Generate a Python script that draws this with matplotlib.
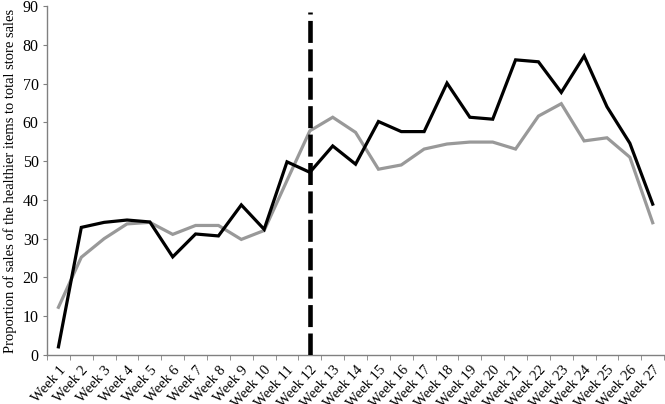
import matplotlib
matplotlib.use("Agg")
import matplotlib.pyplot as plt
import numpy as np

weeks = [f"Week {i}" for i in range(1, 28)]
series_black = [2.1, 32.9, 34.2, 34.8, 34.3, 25.3, 31.2, 30.7, 38.7, 32.4,
                49.8, 47.1, 53.9, 49.2, 60.2, 57.6, 57.6, 70.1, 61.3, 60.8,
                76.1, 75.6, 67.7, 77.1, 64.0, 54.6, 38.9]
series_gray = [12.3, 25.2, 30.0, 33.8, 34.2, 31.1, 33.4, 33.4, 29.8, 32.1,
               45.0, 57.8, 61.3, 57.4, 47.9, 49.0, 53.1, 54.4, 54.9, 54.9,
               53.1, 61.6, 64.8, 55.2, 56.0, 51.0, 34.1]
intervention_week = "Week 12"
intervention_top = 88.5
y_ticks = [0, 10, 20, 30, 40, 50, 60, 70, 80, 90]

plt.rcParams['font.family'] = ['Liberation Serif', 'DejaVu Serif']

fig = plt.figure(figsize=(6.65, 4.04), dpi=100)
ax = fig.add_axes([0.0707, 0.1213, 0.928, 0.864])

x = np.arange(len(weeks))
ax.plot(x, series_gray, color='#999999', lw=2.3, solid_joinstyle='miter', zorder=2)
ax.plot(x, series_black, color='black', lw=2.3, solid_joinstyle='miter', zorder=3)
xi = weeks.index(intervention_week)
ax.vlines(xi, 0, intervention_top, colors='black', linestyles=(0, (4.8, 1.4)), lw=3.3, zorder=4)

ax.set_xlim(-0.5, len(weeks) - 0.5)
ax.set_ylim(0, 90)
ax.set_yticks(y_ticks)
ax.set_yticklabels([str(v) for v in y_ticks], fontsize=11.5)

ax.set_xticks(x)
ax.set_xticklabels(weeks, rotation=48, ha='right', rotation_mode='anchor', fontsize=10.5)
ax.set_xticks(np.arange(-0.5, len(weeks), 1), minor=True)
ax.tick_params(axis='x', which='major', length=0, pad=6)
ax.tick_params(axis='x', which='minor', length=3.5, color='#808080', direction='out')
ax.tick_params(axis='y', length=3, color='#808080', direction='out', pad=3)

for s in ['top', 'right']:
    ax.spines[s].set_visible(False)
for s in ['left', 'bottom']:
    ax.spines[s].set_color('#808080')
    ax.spines[s].set_linewidth(1)

ax.set_ylabel("Proportion of sales of the healthier items to total store sales", fontsize=10.5, labelpad=4)

fig.savefig("out.png", dpi=100)
